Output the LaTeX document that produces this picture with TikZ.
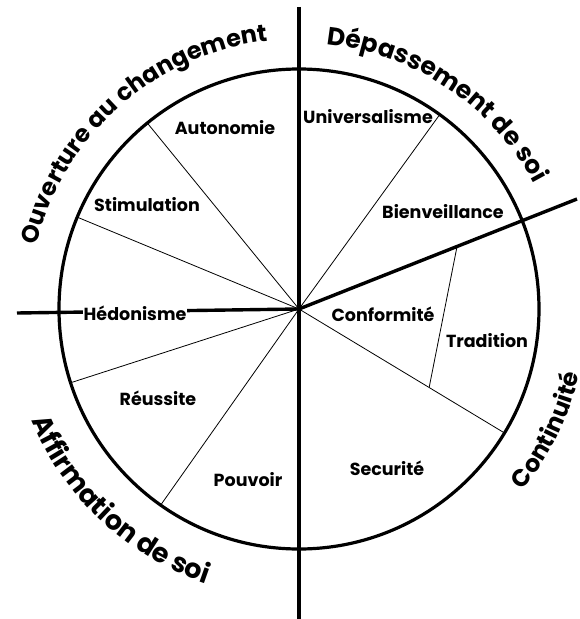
\documentclass[tikz,border=0pt]{standalone}
\usepackage{fontspec}
\setmainfont{Poppins}
\usetikzlibrary{decorations.text}
\begin{document}
\begin{tikzpicture}[x=1pt,y=1pt,
	axe/.style={line width=3.4pt},
	sep/.style={line width=0.8pt},
	val/.style={font=\bfseries\fontsize{17.5}{20}\selectfont,inner sep=1pt},
	pole/.style={decorate,decoration={text along path,text align=center,text={#1}}}]
	\useasboundingbox (-299,-310) rectangle (280,309);
	\coordinate (O) at (0,0);
	\coordinate (N) at (0,302); \coordinate (S) at (0,-310);
	\coordinate (W) at (-282,-4); \coordinate (E) at (278,110);
	% separations entre valeurs
	\foreach \a/\n in {129.2/aut,157.5/sti,197.9/heh,234.8/reu,54.1/uni,-31.1/sec}
		\draw[sep] (O) -- (\a:240) coordinate (\n);
	\coordinate (t1) at (21.6:170); \coordinate (t2) at (-31.1:152);
	\draw[sep] (t1) -- (t2);
	\draw[line width=3.2pt] (O) circle (240);
	% axes
	\draw[axe] (N) -- (S);
	\draw[axe] (O) -- (E);
	\draw[axe] (W) -- (O);
	% valeurs
	\node[val] (autonomie) at (-74,181) {Autonomie};
	\node[val] (stimulation) at (-152,104) {Stimulation};
	\node[val,fill=white] (hedonisme) at (-164,-4) {Hédonisme};
	\node[val] (reussite) at (-141,-89) {Réussite};
	\node[val] (pouvoir) at (-51,-171) {Pouvoir};
	\node[val] (universalisme) at (69,192) {Universalisme};
	\node[val] (bienveillance) at (144,97) {Bienveillance};
	\node[val] (conformite) at (84,-5) {Conformité};
	\node[val] (tradition) at (188,-32) {Tradition};
	\node[val] (securite) at (88,-159) {Securité};
	% poles
	\path[pole={|\bfseries\fontsize{24}{28}\selectfont|Ouverture au changement}] (181.5:270) arc[start angle=181.5,end angle=81.5,radius=270];
	\path[pole={|\bfseries\fontsize{25}{29}\selectfont|Dépassement de soi}] (106:266) arc[start angle=106,end angle=6,radius=266];
	\path[pole={|\bfseries\fontsize{27}{31}\selectfont|Affirmation de soi}] (177:290) arc[start angle=177,end angle=277,radius=290];
	\path[pole={|\bfseries\fontsize{24}{28}\selectfont|Continuité}] (-76:288) arc[start angle=-76,end angle=24,radius=288];
\end{tikzpicture}
\end{document}
